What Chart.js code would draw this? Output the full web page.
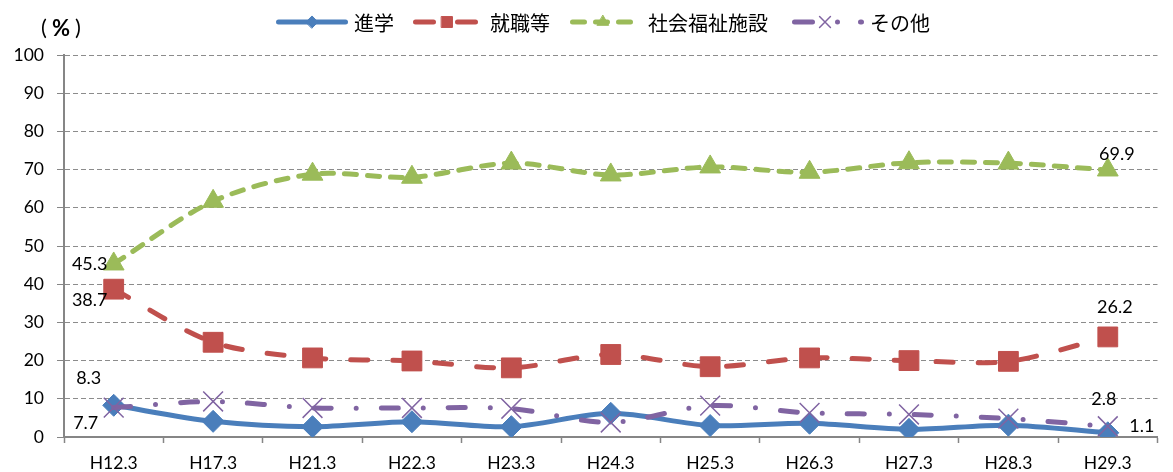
<!DOCTYPE html>
<html lang="ja">
<head>
<meta charset="utf-8">
<title>卒業後の進路状況の推移</title>
<script src="https://cdn.jsdelivr.net/npm/chart.js@4/dist/chart.umd.min.js"></script>
<style>
  html, body { margin: 0; padding: 0; background: #fff; }
  #wrap { position: relative; width: 1173px; height: 472px; }
</style>
</head>
<body>
<div id="wrap"><canvas id="chart" width="1173" height="472"></canvas></div>
<script>
// data
const years = ['H12.3', 'H17.3', 'H21.3', 'H22.3', 'H23.3', 'H24.3', 'H25.3', 'H26.3', 'H27.3', 'H28.3', 'H29.3'];
const shingaku = [8.3, 4.1, 2.7, 4.0, 2.7, 6.2, 3.0, 3.6, 2.0, 3.1, 1.1];
const shushoku = [38.7, 24.8, 20.7, 19.9, 18.1, 21.6, 18.4, 20.7, 20.0, 19.8, 26.2];
const fukushi = [45.3, 61.7, 68.8, 68.0, 71.7, 68.6, 70.7, 69.3, 71.8, 71.7, 69.9];
const sonota = [7.7, 9.3, 7.6, 7.6, 7.4, 3.8, 8.2, 6.3, 5.9, 4.8, 2.8];
const seriesNames = ['進学', '就職等', '社会福祉施設', 'その他'];
const yTicks = [0, 10, 20, 30, 40, 50, 60, 70, 80, 90, 100];

const NUM_FONT = "Lato, 'Liberation Sans', sans-serif";
const JP_FONT = "'Noto Sans CJK JP', 'Noto Sans', sans-serif";

const BLUE = '#4A7EBB', RED = '#C0504D', GREEN = '#9BBB59', PURPLE = '#8064A2';

// label offsets (px) for the first / last point of each series
const labelOffsets = [
    { first: [-25, -27], last: [34, -7] },
    { first: [-24, 11], last: [7, -30] },
    { first: [-24, 0], last: [9, -16] },
    { first: [-28, 16], last: [-4, -27] }
];

// legend sample layout: start x, sample length, dash, marker x offset
const legendLayout = [
    { x: 276, len: 72, dash: [], mark: 36, textGap: 6 },
    { x: 413, len: 65, dash: [18, 24], mark: 34, textGap: 12 },
    { x: 570, len: 65, dash: [12, 11], mark: 33, textGap: 13 },
    { x: 792, len: 72, dash: [18, 25, 0, 23], mark: 33, textGap: 6 }
];

const datasets = [
    { label: seriesNames[0], data: shingaku, borderColor: BLUE, backgroundColor: BLUE,
      borderDash: [], pointStyle: 'rectRot', pointRadius: 11, order: 4 },
    { label: seriesNames[1], data: shushoku, borderColor: RED, backgroundColor: RED,
      borderDash: [17, 25], pointStyle: 'rect', pointRadius: 14, order: 3 },
    { label: seriesNames[2], data: fukushi, borderColor: GREEN, backgroundColor: GREEN,
      borderDash: [12, 11], pointStyle: 'triangle', pointRadius: 12, order: 2 },
    { label: seriesNames[3], data: sonota, borderColor: PURPLE, backgroundColor: PURPLE,
      borderDash: [17, 25, 0, 25], pointStyle: 'crossRot', pointRadius: 14, order: 1,
      pointBorderWidth: 1.5 }
].map(d => Object.assign({
    borderWidth: 5,
    borderCapStyle: 'round',
    borderJoinStyle: 'round',
    tension: 0.3,
    pointBorderColor: d.borderColor,
    pointBorderWidth: 1,
    pointHoverRadius: d.pointRadius
}, d));

// legend + unit + value labels
const decorations = {
    id: 'decorations',
    afterDatasetsDraw(chart) {
        const ctx = chart.ctx;
        ctx.save();

        // value labels on first/last points
        ctx.font = '18px ' + NUM_FONT;
        ctx.fillStyle = '#000';
        ctx.textAlign = 'center';
        ctx.textBaseline = 'middle';
        chart.data.datasets.forEach((ds, i) => {
            const pts = chart.getDatasetMeta(i).data;
            const last = ds.data.length - 1;
            const o = labelOffsets[i];
            ctx.fillText(ds.data[0].toFixed(1), pts[0].x + o.first[0], pts[0].y + o.first[1]);
            ctx.fillText(ds.data[last].toFixed(1), pts[last].x + o.last[0], pts[last].y + o.last[1]);
        });

        // unit "(%)"
        ctx.font = '22px ' + NUM_FONT;
        ctx.fillText('(', 44, 28);
        ctx.fillText(')', 78, 28);
        ctx.font = 'bold 22px ' + NUM_FONT;
        ctx.fillText('%', 61, 29);

        // legend
        const ly = 22;
        chart.data.datasets.forEach((ds, i) => {
            const L = legendLayout[i];
            ctx.save();
            ctx.strokeStyle = ds.borderColor;
            ctx.lineWidth = ds.borderWidth;
            ctx.lineCap = 'round';
            ctx.setLineDash(L.dash);
            ctx.beginPath();
            ctx.moveTo(L.x + 2.5, ly);
            ctx.lineTo(L.x + L.len - 2.5, ly);
            ctx.stroke();
            ctx.setLineDash([]);
            ctx.fillStyle = ds.backgroundColor;
            ctx.lineWidth = ds.pointBorderWidth;
            Chart.helpers.drawPoint(ctx, {
                pointStyle: ds.pointStyle,
                radius: ds.pointRadius * 0.55,
                rotation: 0,
                borderWidth: ds.pointBorderWidth
            }, L.x + L.mark, ly);
            ctx.restore();
            ctx.font = '20px ' + JP_FONT;
            ctx.fillStyle = '#000';
            ctx.textAlign = 'left';
            ctx.fillText(ds.label, L.x + L.len + L.textGap, ly + 1);
        });
        ctx.restore();
    }
};

new Chart(document.getElementById('chart'), {
    type: 'line',
    data: { labels: years, datasets },
    plugins: [decorations],
    options: {
        responsive: false,
        animation: false,
        events: [],
        layout: { padding: { top: 55, right: 2, left: 0, bottom: 0 } },
        plugins: { legend: { display: false }, tooltip: { enabled: false } },
        scales: {
            x: {
                offset: true,
                grid: { offset: true, drawOnChartArea: false, color: '#868686', tickLength: 6, tickWidth: 1.5 },
                border: { color: '#868686', width: 2 },
                ticks: { color: '#000', font: { family: NUM_FONT, size: 17.5 }, padding: 10, maxRotation: 0 },
                afterFit(scale) { scale.height = 35; }
            },
            y: {
                min: 0,
                max: 100,
                afterBuildTicks(scale) { scale.ticks = yTicks.map(v => ({ value: v })); },
                grid: {
                    color: '#8C8C8C',
                    tickColor: '#868686',
                    tickLength: 7,
                    tickBorderDash: [],
                    lineWidth: 1
                },
                border: { color: '#868686', width: 2, dash: [5, 3] },
                ticks: { color: '#000', font: { family: NUM_FONT, size: 17.5 }, padding: 13 },
                afterFit(scale) { scale.width = 64; }
            }
        }
    }
});
</script>
</body>
</html>
